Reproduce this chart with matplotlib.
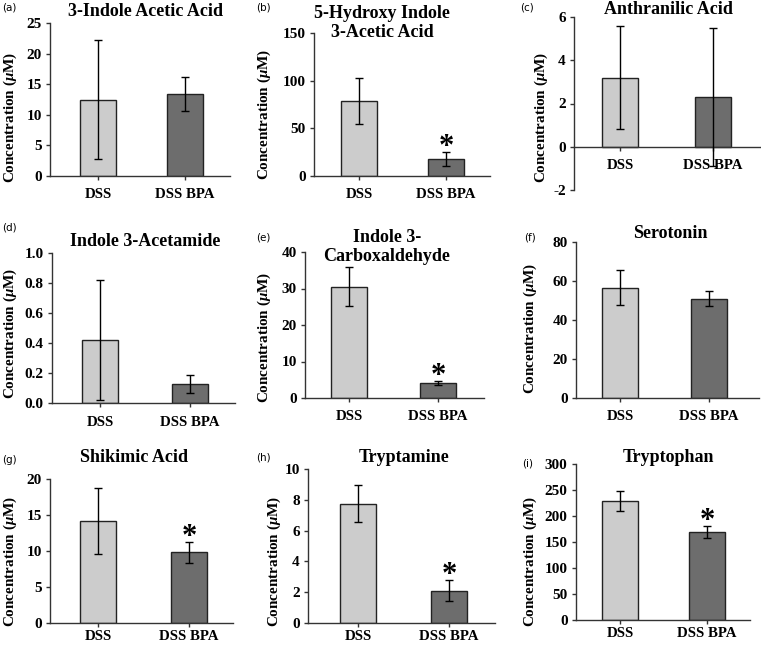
import matplotlib
matplotlib.use("Agg")
import matplotlib.pyplot as plt

plt.rcParams['mathtext.fontset'] = 'custom'
plt.rcParams['mathtext.rm'] = 'Liberation Serif:bold'
plt.rcParams['mathtext.it'] = 'Liberation Serif:italic:bold'
plt.rcParams['mathtext.bf'] = 'Liberation Serif:bold'

W, H = 761, 645
categories = ["DSS", "DSS BPA"]
panel_letters = ["(a)", "(b)", "(c)", "(d)", "(e)", "(f)", "(g)", "(h)", "(i)"]
titles = ["3-Indole Acetic Acid", "5-Hydroxy Indole\n3-Acetic Acid", "Anthranilic Acid",
          "Indole 3-Acetamide", "Indole 3-\nCarboxaldehyde", "Serotonin",
          "Shikimic Acid", "Tryptamine", "Tryptophan"]
dss_means = [12.5, 79, 3.2, 0.42, 30.5, 56.5, 14.2, 7.75, 229]
dss_errs = [9.8, 24, 2.37, 0.40, 5.3, 9.0, 4.6, 1.2, 19.5]
bpa_means = [13.4, 18, 2.3, 0.13, 4.1, 51, 9.8, 2.1, 169]
bpa_errs = [2.7, 7, 3.2, 0.06, 0.5, 3.8, 1.45, 0.67, 12]
significant = [False, True, False, False, True, False, True, True, True]
y_ranges = [(0, 25), (0, 150), (-2, 6), (0, 1.0), (0, 40), (0, 80), (0, 20), (0, 10), (0, 300)]
y_steps = [5, 50, 2, 0.2, 10, 20, 5, 2, 50]
y_formats = ["%d", "%d", "%d", "%.1f", "%d", "%d", "%d", "%d", "%d"]

# layout in pixels: left spine, right end, DSS center, BPA center, top px, bottom px
geom = [
    (50, 230, 98, 185, 23, 176),
    (314, 490, 359, 446, 33, 176),
    (574, 761, 620, 713, 17, 190),
    (52, 235, 100, 190, 253, 403),
    (305, 484, 349, 438, 252, 398),
    (576, 759, 620, 709, 242, 398),
    (50, 233, 98, 189, 479, 623),
    (308, 495, 358, 449, 469, 623),
    (576, 750, 620, 707, 464, 620),
]
xpads = [6, 6, 6, 6, 6, 6, 2, 2, 2]
title_pos = [(145, 11), (382, 23), (668, 9), (145, 242), (387, 247), (670, 234),
             (134, 458), (404, 458), (668, 458)]
ylabel_pos = [(10, 117), (264, 114), (541, 117), (10, 333), (264, 337), (530, 328),
              (10, 561), (274, 561), (530, 561)]
letter_pos = [(2, 8), (256, 8), (520, 8), (2, 227), (256, 237), (524, 237),
              (2, 460), (256, 458), (522, 463)]

SERIF = "Liberation Serif"
fig = plt.figure(figsize=(W / 100, H / 100), dpi=100)
colors = ["#cccccc", "#6d6d6d"]

for i in range(9):
    L, R, c0, c1, yt, yb = geom[i]
    u = c1 - c0
    ax = fig.add_axes([L / W, 1 - yb / H, (R - L) / W, (yb - yt) / H])
    for s in ["top", "right"]:
        ax.spines[s].set_visible(False)
    for s in ["left", "bottom"]:
        ax.spines[s].set_color("#333333")
        ax.spines[s].set_linewidth(1.0)
    y0, y1 = y_ranges[i]
    if y0 < 0:
        ax.spines["bottom"].set_position(("data", 0))
    xs = [0, 1]
    ax.bar(xs, [dss_means[i], bpa_means[i]], width=36 / u, color=colors,
           edgecolor="#222222", linewidth=1.0, zorder=2)
    ax.errorbar(xs, [dss_means[i], bpa_means[i]], yerr=[dss_errs[i], bpa_errs[i]],
                fmt="none", ecolor="black", elinewidth=1.0, capsize=3, capthick=1.0, zorder=3)
    ax.set_xlim((L - c0) / u, (R - c0) / u)
    ax.set_ylim(y0, y1)
    n = int(round((y1 - y0) / y_steps[i]))
    ticks = [y0 + k * y_steps[i] for k in range(n + 1)]
    ax.set_yticks(ticks)
    ax.set_yticklabels([y_formats[i] % t for t in ticks], fontfamily=SERIF,
                       fontweight="bold", fontsize=11)
    ax.set_xticks(xs)
    ax.set_xticklabels(categories, fontfamily=SERIF, fontweight="bold", fontsize=10.7)
    ax.tick_params(axis="y", length=3, width=1, color="#333333", pad=3)
    ax.tick_params(axis="x", length=3, width=1, color="#333333", pad=xpads[i])
    ax.patch.set_alpha(0)
    if significant[i]:
        top = bpa_means[i] + bpa_errs[i]
        ax.annotate("*", xy=(1, top), xytext=(0, -7), textcoords="offset points",
                    ha="center", va="bottom", fontsize=22, fontweight="bold",
                    fontfamily=SERIF)
    tx, ty = title_pos[i]
    fig.text(tx / W, 1 - ty / H, titles[i], ha="center", va="center", fontsize=13,
             fontweight="bold", fontfamily=SERIF, linespacing=1.1)
    lx, ly = ylabel_pos[i]
    fig.text(lx / W, 1 - ly / H, r"Concentration ($\mu$M)", rotation=90, ha="center",
             va="center", fontsize=10.9, fontweight="bold", fontfamily=SERIF)
    px, py = letter_pos[i]
    fig.text(px / W, 1 - py / H, panel_letters[i], ha="left", va="center",
             fontsize=7.5, fontfamily="DejaVu Sans")

fig.savefig("out.png", dpi=100)
